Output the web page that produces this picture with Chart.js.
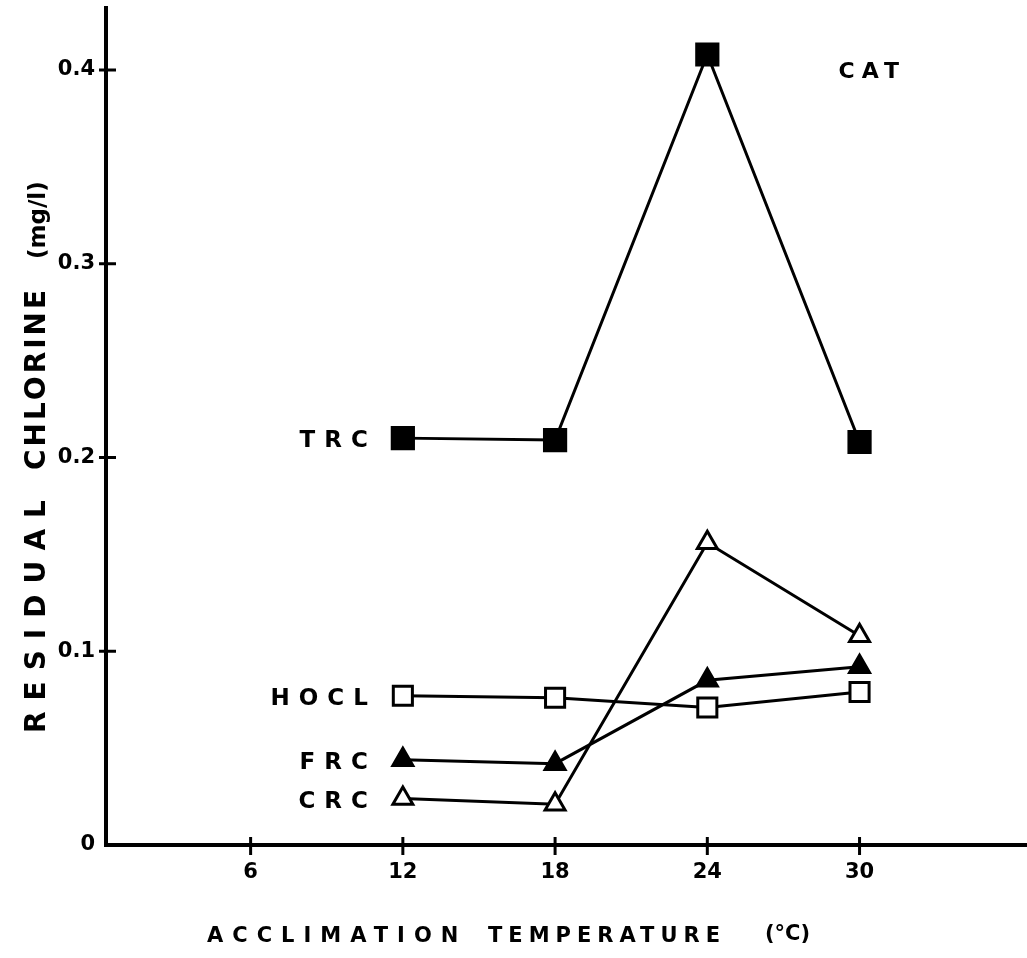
<!DOCTYPE html>
<html>
<head>
<meta charset="utf-8">
<script src="https://cdn.jsdelivr.net/npm/chart.js@4.4.1/dist/chart.umd.min.js"></script>
<style>
  html, body { margin: 0; padding: 0; background: #fff; }
  canvas { display: block; }
</style>
</head>
<body>
<canvas id="chart" width="1027" height="958"></canvas>
<script>
// data
const temps = [12, 18, 24, 30];
const trc = [0.210, 0.209, 0.408, 0.208];
const hocl = [0.077, 0.076, 0.071, 0.079];
const frc = [0.044, 0.042, 0.085, 0.092];
const crc = [0.024, 0.021, 0.156, 0.108];
const xTicks = [6, 12, 18, 24, 30];
const yTicks = [0, 0.1, 0.2, 0.3, 0.4];
const yTickLabels = ["0", "0.1", "0.2", "0.3", "0.4"];

const toPoints = (ys) => temps.map((t, i) => ({ x: t, y: ys[i] }));

const FONT = "'DejaVu Sans', 'Liberation Sans', sans-serif";

// crossing tick marks, axis titles and the series labels
const decorations = {
  id: "decorations",
  afterDraw(chart) {
    const ctx = chart.ctx;
    const xs = chart.scales.x, ys = chart.scales.y;
    const area = chart.chartArea;
    ctx.save();
    ctx.strokeStyle = "#000";
    ctx.lineWidth = 3;
    yTicks.forEach(v => {
      if (v === 0) return;
      const py = ys.getPixelForValue(v);
      ctx.beginPath();
      ctx.moveTo(area.left - 7, py);
      ctx.lineTo(area.left + 10, py);
      ctx.stroke();
    });
    xTicks.forEach(v => {
      const px = xs.getPixelForValue(v);
      ctx.beginPath();
      ctx.moveTo(px, area.bottom - 8);
      ctx.lineTo(px, area.bottom + 10);
      ctx.stroke();
    });

    ctx.fillStyle = "#000";
    ctx.font = "bold 23px " + FONT;
    ctx.letterSpacing = "9px";
    ctx.textBaseline = "alphabetic";
    ctx.textAlign = "right";
    chart.data.datasets.forEach((ds, i) => {
      const pt = chart.getDatasetMeta(i).data[0];
      ctx.fillText(ds.label, pt.x - 26, pt.y + 9);
    });
    ctx.font = "bold 22px " + FONT;
    ctx.letterSpacing = "7px";
    ctx.textAlign = "left";
    ctx.fillText("CAT", xs.getPixelForValue(30) - 21, ys.getPixelForValue(0.4) + 8);

    // axis titles, word by word like the original
    ctx.font = "bold 21px " + FONT;
    ctx.letterSpacing = "9px";
    ctx.fillText("ACCLIMATION", 207, 942);
    ctx.letterSpacing = "6px";
    ctx.fillText("TEMPERATURE", 488, 942);
    ctx.letterSpacing = "0px";
    ctx.fillText("(°C)", 765, 940);

    ctx.translate(45, 0);
    ctx.rotate(-Math.PI / 2);
    ctx.font = "bold 28px " + FONT;
    ctx.letterSpacing = "11px";
    ctx.fillText("RESIDUAL", -733, 0);
    ctx.letterSpacing = "3px";
    ctx.fillText("CHLORINE", -470, 0);
    ctx.letterSpacing = "0px";
    ctx.font = "bold 23px " + FONT;
    ctx.fillText("(mg/l)", -259, 0);
    ctx.restore();
  }
};

const lineDs = (label, ys, style, fill, radius) => ({
  label: label,
  data: toPoints(ys),
  borderColor: "#000",
  borderWidth: 3,
  pointStyle: style,
  pointRadius: radius,
  pointBorderWidth: 3,
  pointBorderColor: "#000",
  pointBackgroundColor: fill,
  tension: 0
});

new Chart(document.getElementById("chart"), {
  type: "line",
  data: {
    datasets: [
      lineDs("TRC", trc, "rect", "#000", 15),
      lineDs("HOCL", hocl, "rect", "#fff", 13.5),
      lineDs("FRC", frc, "triangle", "#000", 11.5),
      lineDs("CRC", crc, "triangle", "#fff", 11.5)
    ]
  },
  options: {
    responsive: false,
    animation: false,
    devicePixelRatio: 1,
    layout: { autoPadding: false, padding: { top: 8, right: 0, left: 0, bottom: 0 } },
    plugins: {
      legend: { display: false },
      tooltip: { enabled: false }
    },
    scales: {
      x: {
        type: "linear",
        min: 0.3,
        max: 36.6,
        afterFit: (s) => { s.height = 113; },
        afterBuildTicks: (s) => { s.ticks = xTicks.map(v => ({ value: v })); },
        grid: { display: false },
        border: { display: true, color: "#000", width: 4 },
        ticks: {
          color: "#000",
          padding: 7,
          font: { family: FONT, size: 21, weight: "bold" },
          maxRotation: 0,
          callback: (v) => String(v)
        }
      },
      y: {
        min: 0,
        max: 0.432,
        afterFit: (s) => { s.width = 106; s.paddingTop = 0; s.paddingBottom = 0; },
        afterBuildTicks: (s) => { s.ticks = yTicks.map(v => ({ value: v })); },
        grid: { display: false },
        border: { display: true, color: "#000", width: 4 },
        ticks: {
          color: "#000",
          padding: 3,
          font: { family: FONT, size: 21, weight: "bold" },
          callback: (v) => yTickLabels[yTicks.indexOf(v)] ?? ""
        }
      }
    }
  },
  plugins: [decorations]
});
</script>
</body>
</html>
